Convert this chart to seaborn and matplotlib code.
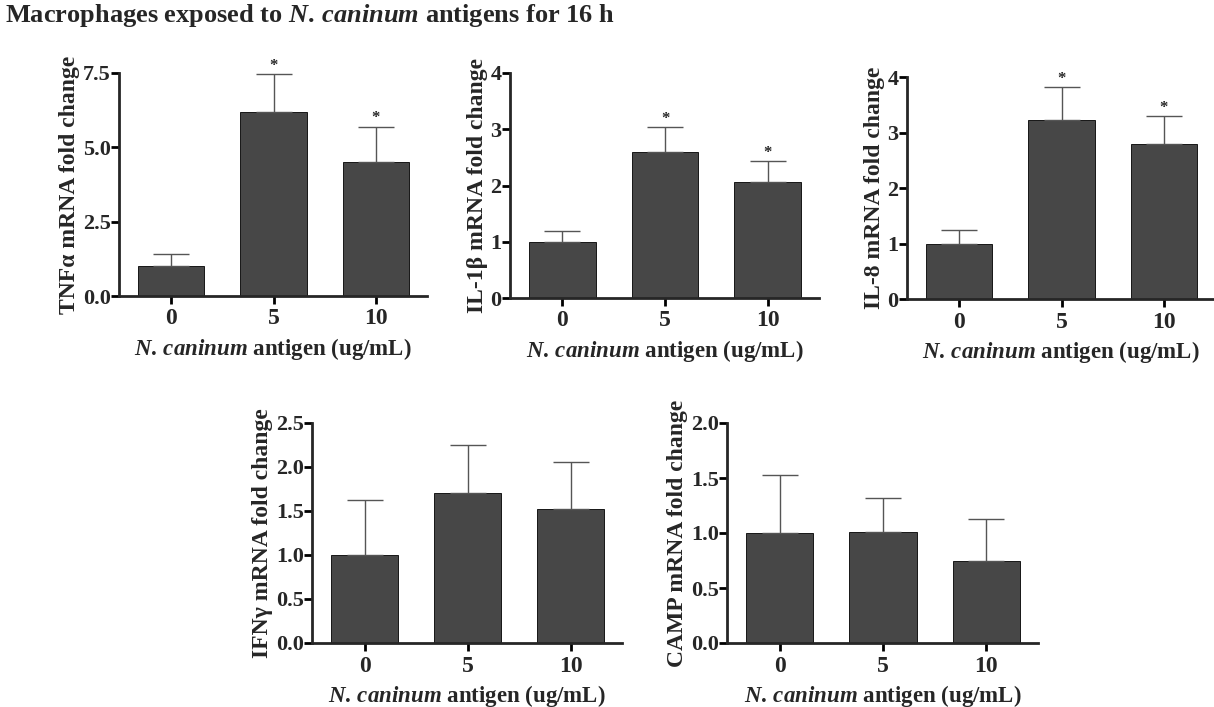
import matplotlib
matplotlib.use("Agg")
import matplotlib.pyplot as plt
import seaborn as sns

# Data (mean and top of SEM bar)
doses = ["0", "5", "10"]

tnf_mean = [1.0, 6.2, 4.5]
tnf_top = [1.4, 7.45, 5.7]

il1b_mean = [1.0, 2.6, 2.07]
il1b_top = [1.2, 3.04, 2.44]

il8_mean = [1.0, 3.22, 2.8]
il8_top = [1.25, 3.82, 3.3]

ifng_mean = [1.0, 1.7, 1.52]
ifng_top = [1.63, 2.25, 2.06]

camp_mean = [1.0, 1.01, 0.75]
camp_top = [1.53, 1.32, 1.13]

# significance marks per bar
tnf_sig = ["", "*", "*"]
il1b_sig = ["", "*", "*"]
il8_sig = ["", "*", "*"]
ifng_sig = ["", "", ""]
camp_sig = ["", "", ""]

sns.set_style("ticks")
plt.rcParams["font.family"] = ["Liberation Serif", "DejaVu Serif"]
plt.rcParams["font.weight"] = "bold"
plt.rcParams["mathtext.fontset"] = "custom"
plt.rcParams["mathtext.it"] = "Liberation Serif:italic:bold"
plt.rcParams["mathtext.rm"] = "Liberation Serif:bold"
plt.rcParams["axes.linewidth"] = 2.0

W, H = 1214, 707
fig = plt.figure(figsize=(W / 100, H / 100), dpi=100)


def box(left, top, right, bottom):
    return [left / W, 1 - bottom / H, (right - left) / W, (bottom - top) / H]


panels = [
    (box(119, 73, 427, 296), tnf_mean, tnf_top, tnf_sig, 7.5, [0, 2.5, 5.0, 7.5], "{:.1f}",
     "TNF\u03b1 mRNA fold change"),
    (box(510, 73, 819, 298), il1b_mean, il1b_top, il1b_sig, 4, [0, 1, 2, 3, 4], "{:.0f}",
     "IL-1\u03b2 mRNA fold change"),
    (box(907, 77, 1215, 299), il8_mean, il8_top, il8_sig, 4, [0, 1, 2, 3, 4], "{:.0f}",
     "IL-8 mRNA fold change"),
    (box(312, 423, 622, 643), ifng_mean, ifng_top, ifng_sig, 2.5, [0, 0.5, 1.0, 1.5, 2.0, 2.5], "{:.1f}",
     "IFN\u03b3 mRNA fold change"),
    (box(727, 423, 1038, 643), camp_mean, camp_top, camp_sig, 2.0, [0, 0.5, 1.0, 1.5, 2.0], "{:.1f}",
     "CAMP mRNA fold change"),
]

bar_color = "#474747"
species = r"$\mathit{N.\,caninum}$"

for rect, means, tops, sig, ymax, yticks, fmt, ylabel in panels:
    ax = fig.add_axes(rect)
    sns.barplot(x=doses, y=means, order=doses, color=bar_color, saturation=1,
                width=0.65, edgecolor="black", linewidth=0.6, errorbar=None, ax=ax)
    pos = list(range(len(doses)))
    upper = [t - m for t, m in zip(tops, means)]
    ax.errorbar(pos, means, yerr=[[0] * len(means), upper], fmt="none",
                ecolor="#555555", elinewidth=1.0, capsize=13, capthick=1.0, zorder=3)
    for p, t, s in zip(pos, tops, sig):
        if s:
            ax.annotate(s, (p, t), xytext=(0, 3), textcoords="offset points",
                        ha="center", va="baseline", fontsize=12, fontweight="bold",
                        annotation_clip=False)
    ax.set_xlim(-0.51, 2.5)
    ax.set_ylim(0, ymax)
    ax.set_yticks(yticks)
    ax.set_yticklabels([fmt.format(v) for v in yticks])
    sns.despine(ax=ax)
    ax.tick_params(axis="both", direction="out", length=6, width=2, color="black")
    ax.tick_params(axis="y", labelsize=16, pad=0)
    ax.tick_params(axis="x", labelsize=17, pad=3)
    ax.set_ylabel(ylabel, fontsize=17, fontweight="bold", labelpad=2)
    ax.set_xlabel(species + " antigen (ug/mL)", fontsize=16.5,
                  fontweight="bold", labelpad=5)

fig.text(0.004, 0.978, "Macrophages exposed to " + species + " antigens for 16 h",
         fontsize=19, fontweight="bold", ha="left", va="center")

fig.savefig("out.png", dpi=100)
